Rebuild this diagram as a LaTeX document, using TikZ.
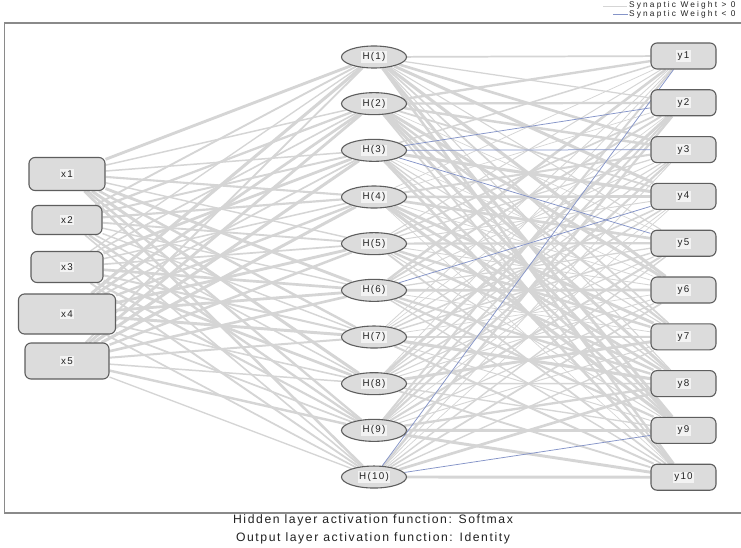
\documentclass[tikz,border=0pt]{standalone}
\usepackage{fontspec}
\usetikzlibrary{shapes.geometric,backgrounds}
\newfontfamily\spss{Liberation Sans}[LetterSpace=13]
\newfontfamily\spsswide{Liberation Sans}[LetterSpace=26]
\definecolor{edgegray}{HTML}{D5D5D5}
\definecolor{negblue}{HTML}{8594C8}
\definecolor{boxfill}{HTML}{DCDCDC}
\definecolor{boxdraw}{HTML}{5E5E5E}
\definecolor{framegray}{HTML}{8A8A8A}
\definecolor{labelbg}{HTML}{F3F3F3}
\definecolor{txt}{HTML}{222222}
\newcommand\nnlab[1]{{\setlength{\fboxsep}{1.2pt}\colorbox{labelbg}{\spss\fontsize{9.8}{11}\selectfont\color{txt}#1}}}
\expandafter\def\csname neg3-2\endcsname{1}
\expandafter\def\csname neg3-3\endcsname{1}
\expandafter\def\csname neg3-5\endcsname{1}
\expandafter\def\csname neg6-4\endcsname{1}
\expandafter\def\csname neg10-1\endcsname{1}
\expandafter\def\csname neg10-9\endcsname{1}
\tikzset{
  inbox/.style={draw=boxdraw, fill=boxfill, rounded corners=6pt, line width=1.1pt, inner sep=0pt},
  hid/.style={ellipse, draw=boxdraw, fill=boxfill, line width=1.1pt, minimum width=65pt, minimum height=22pt, inner sep=0pt},
  outbox/.style={inbox, minimum width=65pt, minimum height=26pt},
  edge/.style={edgegray},
  negedge/.style={negblue, line width=0.75pt},
  captext/.style={font=\spss\fontsize{12.2}{14}\selectfont, text=txt, inner sep=0pt},
  legtext/.style={font=\spsswide\fontsize{8.3}{9}\selectfont, text=txt, inner sep=0pt, anchor=west}
}
\begin{document}
\begin{tikzpicture}[x=1pt,y=-1pt]
\useasboundingbox (0,0) rectangle (741,548);
% input nodes
\node[inbox, minimum width=76pt, minimum height=33pt] (x1) at (67,174) {\nnlab{x1}};
\node[inbox, minimum width=70pt, minimum height=29pt] (x2) at (67,220) {\nnlab{x2}};
\node[inbox, minimum width=72pt, minimum height=31pt] (x3) at (67,267) {\nnlab{x3}};
\node[inbox, minimum width=97pt, minimum height=40pt] (x4) at (67,314) {\nnlab{x4}};
\node[inbox, minimum width=84pt, minimum height=36pt] (x5) at (67,361) {\nnlab{x5}};
% hidden nodes
\foreach \h in {1,...,10}{
  \pgfmathsetmacro\yy{57+(\h-1)*46.67}
  \node[hid] (h\h) at (374,\yy) {\nnlab{H(\h)}};
}
% output nodes
\foreach \o in {1,...,10}{
  \pgfmathsetmacro\yy{56+(\o-1)*46.8}
  \node[outbox] (y\o) at (683.5,\yy) {\nnlab{y\o}};
}
\begin{pgfonlayer}{background}
  \fill[white] (0,0) rectangle (741,548);
  \draw[framegray, line width=1.4pt] (4.5,23) rectangle (760,513);
  \pgfmathsetseed{7}
  \foreach \i in {1,...,5}{
    \foreach \h in {1,...,10}{
      \pgfmathsetmacro\lw{1.2+1.9*rnd}
      \draw[edge, line width=\lw pt] (x\i) -- (h\h);
    }
  }
  \foreach \h in {1,...,10}{
    \foreach \o in {1,...,10}{
      \ifcsname neg\h-\o\endcsname\else
        \pgfmathsetmacro\lw{0.6+2.6*rnd}
        \draw[edge, line width=\lw pt] (h\h) -- (y\o);
      \fi
    }
  }
  \foreach \h/\o in {3/2,3/3,3/5,6/4,10/1,10/9}{
    \draw[negedge] (h\h) -- (y\o);
  }
\end{pgfonlayer}
% legend
\coordinate (lga) at (603,6);
\coordinate (lgb) at (627,6);
\coordinate (lgc) at (613,14.5);
\coordinate (lgd) at (628,14.5);
\draw[edgegray, line width=0.9pt] (lga) -- (lgb);
\draw[negblue, line width=0.9pt] (lgc) -- (lgd);
\node[legtext] (leg1) at (629,5.5) {Synaptic Weight > 0};
\node[legtext] (leg2) at (629,14.5) {Synaptic Weight < 0};
% captions
\node[captext] (cap1) at (373,520.5) {Hidden layer activation function: Softmax};
\node[captext] (cap2) at (373,538) {Output layer activation function: Identity};
\end{tikzpicture}
\end{document}
